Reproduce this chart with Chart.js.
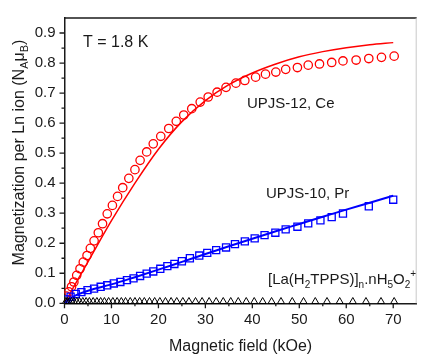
<!DOCTYPE html>
<html><head><meta charset="utf-8">
<script src="https://cdn.jsdelivr.net/npm/chart.js@4/dist/chart.umd.min.js"></script>
<style>html,body{margin:0;padding:0;background:#fff;}canvas{display:block;}</style>
</head><body>
<canvas id="c" width="423" height="355"></canvas>
<script>
// ---- data ----
const xTicks = [0, 10, 20, 30, 40, 50, 60, 70];
const yTicks = [0, 0.1, 0.2, 0.3, 0.4, 0.5, 0.6, 0.7, 0.8, 0.9];

const ceField = [0.4,0.9,1.5,2.0,2.6,3.3,4.0,4.8,5.5,6.3,7.2,8.1,9.1,10.2,11.3,12.4,13.7,15.0,16.1,17.5,18.9,20.5,22.2,23.8,25.4,27.1,28.9,30.6,32.5,34.4,36.5,38.4,40.7,42.8,45.0,47.1,49.6,51.9,54.3,56.9,59.3,62.1,64.8,67.5,70.2];
const ceMag   = [0.024,0.038,0.055,0.071,0.093,0.115,0.137,0.159,0.183,0.208,0.235,0.265,0.298,0.326,0.356,0.385,0.416,0.445,0.476,0.504,0.531,0.556,0.582,0.606,0.627,0.648,0.670,0.687,0.703,0.719,0.733,0.742,0.753,0.763,0.770,0.779,0.785,0.793,0.797,0.802,0.807,0.810,0.815,0.819,0.823];

const ceFitField = [0,2.5,5,10,15,20,25,30,35,40,45,50,55,60,65,70];
const ceFitMag   = [0,0.07,0.138,0.275,0.40,0.513,0.605,0.675,0.728,0.767,0.797,0.821,0.838,0.851,0.861,0.868];

const prField = [0.4,1.3,2.4,3.6,4.9,6.3,7.7,9.1,10.5,11.9,13.3,14.7,16.1,17.5,18.9,20.4,21.9,23.4,25.0,26.7,28.7,30.4,32.3,34.4,36.3,38.4,40.5,42.6,44.9,47.1,49.6,51.9,54.5,56.9,59.3,64.8,70.0];
const prMag   = [0.013,0.022,0.031,0.037,0.044,0.049,0.055,0.060,0.066,0.071,0.077,0.083,0.091,0.099,0.106,0.115,0.124,0.131,0.140,0.150,0.159,0.168,0.177,0.186,0.197,0.206,0.216,0.227,0.235,0.246,0.255,0.266,0.276,0.287,0.299,0.323,0.345];

const prFitField = [0,1,2.5,5,10,15,20,25,30,35,40,45,50,55,60,65,70];
const prFitMag   = [0,0.014,0.027,0.042,0.063,0.087,0.112,0.138,0.164,0.19,0.215,0.24,0.264,0.288,0.312,0.335,0.358];

const laField = [0.3,0.6,1.0,1.5,2.0,2.6,3.2,3.9,4.6,5.3,6.1,6.9,7.7,8.5,9.4,10.3,11.2,12.1,13.0,14.0,15.0,16.0,17.0,18.1,19.2,20.3,21.5,22.7,23.9,25.2,26.5,27.9,29.3,30.8,32.3,33.8,35.4,37.0,38.7,40.4,42.2,44.1,46.1,48.5,50.9,53.4,55.9,58.6,61.4,64.2,67.4,70.2];
const laMag   = [0.006,0.006,0.006,0.006,0.006,0.006,0.006,0.006,0.006,0.006,0.006,0.006,0.006,0.006,0.006,0.006,0.006,0.006,0.006,0.006,0.006,0.006,0.006,0.006,0.006,0.006,0.006,0.006,0.006,0.006,0.006,0.006,0.006,0.006,0.006,0.006,0.006,0.006,0.006,0.006,0.006,0.006,0.006,0.006,0.006,0.006,0.006,0.006,0.006,0.006,0.006,0.006];

const xTitle = 'Magnetic field (kOe)';
const yTitleRuns = [['Magnetization per Ln ion (N','n'],['A','sub'],['\u03BC','n'],['B','sub'],[')','n']];
const laLabelRuns = [['[La(H','n'],['2','sub'],['TPPS)]','n'],['n','sub'],['.nH','n'],['5','sub'],['O','n'],['2','sub'],['+','sup']];

// ---- helpers ----
const FONT = "'Liberation Sans', Arial, Helvetica, sans-serif";
const INK = '#1a1a1a';
const pts = (xs, ys) => xs.map((x, i) => ({x: x, y: ys[i]}));

function runsWidth(ctx, runs, size) {
  let w = 0;
  for (const [t, k] of runs) {
    ctx.font = (k === 'n' ? size : Math.round(size * 0.68)) + 'px ' + FONT;
    w += ctx.measureText(t).width;
  }
  return w;
}
function drawRuns(ctx, runs, x, y, size, align) {
  let cx = x;
  if (align === 'center') cx = x - runsWidth(ctx, runs, size) / 2;
  ctx.textBaseline = 'alphabetic';
  ctx.textAlign = 'left';
  for (const [t, k] of runs) {
    let dy = 0;
    if (k === 'n') ctx.font = size + 'px ' + FONT;
    else {
      ctx.font = Math.round(size * 0.68) + 'px ' + FONT;
      dy = k === 'sub' ? size * 0.28 : -size * 0.42;
    }
    ctx.fillText(t, cx, y + dy);
    cx += ctx.measureText(t).width;
  }
}

const decor = {
  id: 'decor',
  afterDraw(chart) {
    const ctx = chart.ctx, a = chart.chartArea;
    const xs = chart.scales.x, ys = chart.scales.y;
    ctx.save();
    // top and right frame
    ctx.strokeStyle = INK; ctx.lineWidth = 1.5;
    ctx.beginPath(); ctx.moveTo(a.left, a.top); ctx.lineTo(a.right, a.top); ctx.stroke();
    ctx.strokeStyle = '#c8c8c8'; ctx.lineWidth = 1;
    ctx.beginPath(); ctx.moveTo(a.right - 0.5, a.top); ctx.lineTo(a.right - 0.5, a.bottom); ctx.stroke();
    // ticks
    ctx.strokeStyle = INK; ctx.lineWidth = 1.3;
    ctx.beginPath();
    for (let i = 0; i < yTicks.length; i++) {
      const py = ys.getPixelForValue(yTicks[i]);
      ctx.moveTo(a.left, py); ctx.lineTo(a.left - 5, py);
      const mv = yTicks[i] + 0.05;
      if (mv < ys.max) { const pm = ys.getPixelForValue(mv); ctx.moveTo(a.left, pm); ctx.lineTo(a.left - 3, pm); }
    }
    for (let i = 0; i < xTicks.length; i++) {
      const px = xs.getPixelForValue(xTicks[i]);
      ctx.moveTo(px, a.bottom); ctx.lineTo(px, a.bottom + 5);
      const mv = xTicks[i] + 5;
      if (mv < xs.max) { const pm = xs.getPixelForValue(mv); ctx.moveTo(pm, a.bottom); ctx.lineTo(pm, a.bottom + 3); }
    }
    ctx.stroke();
    // texts
    ctx.fillStyle = INK;
    drawRuns(ctx, [['T = 1.8 K','n']], 83, 46.5, 16, 'left');
    drawRuns(ctx, [['UPJS-12, Ce','n']], 247, 108, 15, 'left');
    drawRuns(ctx, [['UPJS-10, Pr','n']], 266, 198, 15, 'left');
    drawRuns(ctx, laLabelRuns, 268, 283.5, 15, 'left');
    drawRuns(ctx, [[xTitle,'n']], (a.left + a.right) / 2, 351, 16, 'center');
    ctx.translate(24, 152.5);
    ctx.rotate(-Math.PI / 2);
    drawRuns(ctx, yTitleRuns, 0, 0, 16, 'center');
    ctx.restore();
  }
};

new Chart(document.getElementById('c'), {
  type: 'scatter',
  data: {
    datasets: [
      { data: pts(laField, laMag), showLine: false, pointStyle: 'triangle', pointRadius: 4, pointBorderWidth: 1,
        borderColor: '#000', backgroundColor: 'rgba(0,0,0,0)', clip: false },
      { data: pts(prFitField, prFitMag), showLine: true, pointRadius: 0, borderColor: '#0000ff', borderWidth: 2,
        cubicInterpolationMode: 'monotone' },
      { data: pts(prField, prMag), showLine: false, pointStyle: 'rect', pointRadius: 5, pointBorderWidth: 1.3,
        borderColor: '#0000ff', backgroundColor: 'rgba(0,0,0,0)' },
      { data: pts(ceFitField, ceFitMag), showLine: true, pointRadius: 0, borderColor: '#ff0000', borderWidth: 1.5,
        cubicInterpolationMode: 'monotone' },
      { data: pts(ceField, ceMag), showLine: false, pointStyle: 'circle', pointRadius: 4.2, pointBorderWidth: 1.3,
        borderColor: '#ff0000', backgroundColor: 'rgba(0,0,0,0)' }
    ]
  },
  options: {
    responsive: false,
    animation: false,
    events: [],
    layout: { padding: { top: 14, right: 1, left: 0, bottom: 0 } },
    plugins: { legend: { display: false }, tooltip: { enabled: false } },
    scales: {
      x: {
        type: 'linear', min: 0, max: 75,
        afterFit: s => { s.height = 51.7; },
        afterBuildTicks: s => { s.ticks = xTicks.map(v => ({ value: v })); },
        grid: { display: false, drawTicks: false },
        border: { display: true, color: INK, width: 1.5 },
        ticks: { padding: 8, color: INK, font: { family: FONT, size: 15 }, callback: v => String(v), maxRotation: 0 }
      },
      y: {
        type: 'linear', min: 0, max: 0.95,
        afterFit: s => { s.width = 64.5; },
        afterBuildTicks: s => { s.ticks = yTicks.map(v => ({ value: v })); },
        grid: { display: false, drawTicks: false },
        border: { display: true, color: INK, width: 1.5 },
        ticks: { padding: 9, color: INK, font: { family: FONT, size: 15 }, callback: v => Number(v).toFixed(1) }
      }
    }
  },
  plugins: [decor]
});
</script>
</body></html>
